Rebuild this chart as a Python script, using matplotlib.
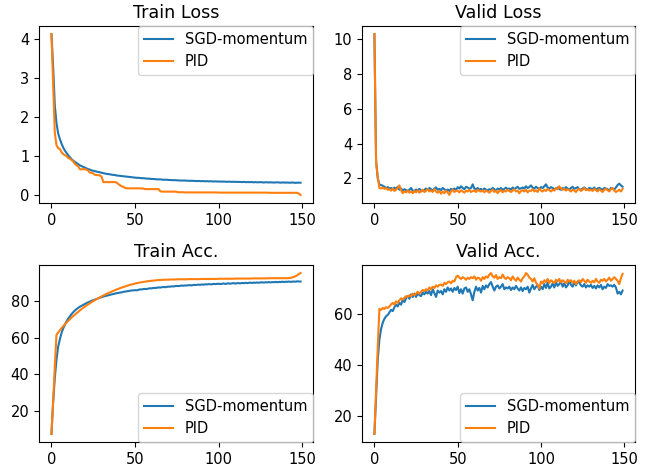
import matplotlib
matplotlib.use("Agg")
import matplotlib.pyplot as plt

epochs = list(range(150))

train_loss_sgd = [
    4.13, 3.30, 2.30, 1.85, 1.58, 1.44, 1.32, 1.22, 1.14, 1.08,
    1.02, 0.97, 0.92, 0.88, 0.85, 0.82, 0.79, 0.76, 0.74, 0.72,
    0.70, 0.68, 0.66, 0.65, 0.63, 0.62, 0.61, 0.60, 0.59, 0.58,
    0.57, 0.56, 0.55, 0.54, 0.535, 0.53, 0.52, 0.515, 0.51, 0.50,
    0.495, 0.49, 0.485, 0.48, 0.475, 0.47, 0.465, 0.46, 0.455, 0.45,
    0.445, 0.44, 0.44, 0.435, 0.43, 0.43, 0.425, 0.42, 0.42, 0.415,
    0.41, 0.41, 0.405, 0.40, 0.40, 0.40, 0.395, 0.39, 0.39, 0.39,
    0.385, 0.385, 0.38, 0.38, 0.38, 0.375, 0.375, 0.37, 0.37, 0.37,
    0.37, 0.365, 0.365, 0.36, 0.365, 0.36, 0.36, 0.355, 0.36, 0.355,
    0.355, 0.355, 0.35, 0.355, 0.35, 0.35, 0.35, 0.345, 0.35, 0.345,
    0.345, 0.345, 0.34, 0.345, 0.34, 0.34, 0.34, 0.34, 0.335, 0.34,
    0.335, 0.335, 0.335, 0.335, 0.33, 0.335, 0.33, 0.33, 0.33, 0.33,
    0.33, 0.325, 0.33, 0.325, 0.325, 0.33, 0.325, 0.32, 0.325, 0.325,
    0.32, 0.325, 0.32, 0.32, 0.32, 0.325, 0.32, 0.315, 0.32, 0.32,
    0.315, 0.32, 0.315, 0.315, 0.32, 0.315, 0.31, 0.315, 0.315, 0.315,
]
train_loss_pid = [
    4.13, 2.85, 1.60, 1.28, 1.20, 1.18, 1.10, 1.05, 1.02, 1.00,
    0.95, 0.93, 0.90, 0.86, 0.80, 0.76, 0.74, 0.66, 0.66, 0.66,
    0.66, 0.65, 0.62, 0.57, 0.57, 0.55, 0.52, 0.51, 0.51, 0.50,
    0.47, 0.33, 0.33, 0.33, 0.33, 0.33, 0.33, 0.33, 0.33, 0.32,
    0.28, 0.25, 0.22, 0.21, 0.18, 0.17, 0.17, 0.17, 0.17, 0.17,
    0.17, 0.17, 0.17, 0.17, 0.165, 0.165, 0.15, 0.15, 0.15, 0.15,
    0.15, 0.15, 0.15, 0.15, 0.15, 0.10, 0.085, 0.085, 0.085, 0.085,
    0.085, 0.085, 0.085, 0.085, 0.085, 0.08, 0.07, 0.07, 0.07, 0.07,
    0.065, 0.065, 0.065, 0.065, 0.065, 0.065, 0.065, 0.065, 0.065, 0.065,
    0.065, 0.065, 0.065, 0.065, 0.065, 0.065, 0.065, 0.065, 0.065, 0.065,
    0.06, 0.06, 0.06, 0.06, 0.06, 0.06, 0.06, 0.06, 0.06, 0.06,
    0.06, 0.06, 0.06, 0.06, 0.06, 0.06, 0.06, 0.06, 0.06, 0.06,
    0.06, 0.06, 0.06, 0.06, 0.06, 0.06, 0.06, 0.06, 0.06, 0.06,
    0.055, 0.055, 0.055, 0.055, 0.055, 0.055, 0.055, 0.055, 0.055, 0.055,
    0.055, 0.055, 0.055, 0.055, 0.055, 0.055, 0.055, 0.055, 0.035, 0.0,
]

valid_loss_sgd = [
    10.3, 3.05, 2.0, 1.65, 1.62, 1.58, 1.52, 1.45, 1.50, 1.42,
    1.45, 1.38, 1.47, 1.40, 1.52, 1.35, 1.42, 1.30, 1.38, 1.33,
    1.28, 1.35, 1.45, 1.30, 1.27, 1.36, 1.32, 1.40, 1.30, 1.28,
    1.35, 1.42, 1.33, 1.45, 1.38, 1.30, 1.42, 1.48, 1.35, 1.40,
    1.33, 1.45, 1.38, 1.30, 1.36, 1.28, 1.40, 1.35, 1.42, 1.32,
    1.50, 1.42, 1.55, 1.45, 1.38, 1.52, 1.48, 1.40, 1.45, 1.66,
    1.42, 1.38, 1.45, 1.35, 1.40, 1.33, 1.42, 1.36, 1.30, 1.38,
    1.35, 1.45, 1.38, 1.30, 1.42, 1.37, 1.45, 1.33, 1.40, 1.47,
    1.38, 1.42, 1.35, 1.48, 1.40, 1.45, 1.52, 1.40, 1.43, 1.48,
    1.42, 1.55, 1.45, 1.50, 1.60, 1.47, 1.42, 1.52, 1.45, 1.40,
    1.50, 1.45, 1.55, 1.66, 1.48, 1.42, 1.50, 1.45, 1.38, 1.42,
    1.48, 1.40, 1.35, 1.45, 1.38, 1.50, 1.42, 1.36, 1.45, 1.52,
    1.40, 1.45, 1.50, 1.38, 1.35, 1.42, 1.48, 1.40, 1.36, 1.45,
    1.42, 1.38, 1.48, 1.35, 1.42, 1.46, 1.40, 1.35, 1.45, 1.42,
    1.38, 1.30, 1.45, 1.40, 1.36, 1.48, 1.62, 1.70, 1.60, 1.52,
]
valid_loss_pid = [
    10.3, 2.9, 2.1, 1.45, 1.42, 1.48, 1.40, 1.45, 1.35, 1.38,
    1.30, 1.42, 1.28, 1.35, 1.45, 1.60, 1.32, 1.15, 1.25, 1.20,
    1.30, 1.18, 1.25, 1.15, 1.28, 1.20, 1.32, 1.18, 1.25, 1.35,
    1.22, 1.28, 1.40, 1.25, 1.30, 1.22, 1.38, 1.25, 1.18, 1.28,
    1.12, 1.25, 1.15, 1.30, 1.20, 1.05, 1.25, 1.35, 1.22, 1.30,
    1.28, 1.20, 1.32, 1.25, 1.18, 1.30, 1.25, 1.35, 1.22, 1.28,
    1.30, 1.22, 1.35, 1.28, 1.25, 1.32, 1.20, 1.30, 1.25, 1.18,
    1.28, 1.35, 1.22, 1.30, 1.15, 1.28, 1.32, 1.20, 1.30, 1.25,
    1.35, 1.28, 1.22, 1.30, 1.38, 1.25, 1.30, 1.15, 1.28, 1.32,
    1.25, 1.35, 1.20, 1.30, 1.28, 1.38, 1.25, 1.32, 1.22, 1.42,
    1.30, 1.25, 1.35, 1.28, 1.40, 1.32, 1.25, 1.35, 1.30, 1.45,
    1.38, 1.55, 1.42, 1.35, 1.40, 1.30, 1.38, 1.32, 1.25, 1.35,
    1.30, 1.22, 1.35, 1.40, 1.28, 1.35, 1.45, 1.32, 1.38, 1.30,
    1.35, 1.28, 1.40, 1.32, 1.25, 1.38, 1.30, 1.22, 1.35, 1.40,
    1.32, 1.25, 1.38, 1.45, 1.30, 1.22, 1.28, 1.35, 1.25, 1.40,
]

train_acc_sgd = [
    7.7, 25, 38, 48, 55, 59, 62.5, 65, 67, 68.8,
    70.3, 71.6, 72.8, 73.8, 74.7, 75.5, 76.2, 76.8, 77.3, 77.8,
    78.3, 78.8, 79.2, 79.6, 80.0, 80.4, 80.7, 81.0, 81.4, 81.7,
    82.0, 82.3, 82.6, 82.8, 83.0, 83.3, 83.5, 83.7, 83.9, 84.2,
    84.3, 84.5, 84.6, 84.9, 85.0, 85.2, 85.3, 85.5, 85.6, 85.7,
    85.8, 85.7, 86.0, 86.2, 86.2, 86.4, 86.5, 86.4, 86.7, 86.8,
    86.8, 87.0, 87.0, 87.1, 87.3, 87.2, 87.4, 87.5, 87.4, 87.6,
    87.7, 87.7, 87.9, 87.8, 88.0, 88.1, 88.0, 88.2, 88.3, 88.2,
    88.4, 88.3, 88.5, 88.5, 88.4, 88.7, 88.6, 88.7, 88.8, 88.7,
    88.9, 88.8, 89.0, 88.9, 89.1, 89.0, 89.0, 89.2, 89.1, 89.2,
    89.3, 89.1, 89.3, 89.4, 89.2, 89.4, 89.5, 89.3, 89.5, 89.6,
    89.4, 89.6, 89.6, 89.5, 89.7, 89.6, 89.8, 89.6, 89.8, 89.9,
    89.7, 89.9, 89.8, 90.0, 89.8, 90.0, 90.1, 89.9, 90.1, 90.0,
    90.2, 90.0, 90.2, 90.1, 90.3, 90.1, 90.3, 90.2, 90.4, 90.2,
    90.4, 90.3, 90.5, 90.3, 90.4, 90.5, 90.4, 90.6, 90.5, 90.5,
]
train_acc_pid = [
    7.7, 25, 44, 61.5, 62.8, 64.0, 65.1, 66.2, 67.2, 68.2,
    69.1, 70.0, 70.9, 71.7, 72.5, 73.3, 74.0, 74.8, 75.5, 76.2,
    76.9, 77.5, 78.1, 78.7, 79.3, 79.9, 80.4, 80.9, 81.4, 81.9,
    82.4, 82.9, 83.3, 83.8, 84.2, 84.6, 85.0, 85.4, 85.8, 86.2,
    86.5, 86.9, 87.2, 87.5, 87.8, 88.1, 88.4, 88.7, 88.9, 89.1,
    89.4, 89.6, 89.8, 90.0, 90.1, 90.3, 90.4, 90.6, 90.7, 90.8,
    90.9, 91.0, 91.1, 91.2, 91.3, 91.3, 91.4, 91.4, 91.5, 91.5,
    91.5, 91.6, 91.6, 91.6, 91.6, 91.7, 91.7, 91.7, 91.7, 91.7,
    91.7, 91.7, 91.8, 91.8, 91.8, 91.8, 91.8, 91.8, 91.8, 91.8,
    91.9, 91.9, 91.9, 91.9, 91.9, 91.9, 91.9, 91.9, 91.9, 91.9,
    92.0, 92.0, 92.0, 92.0, 92.0, 92.0, 92.0, 92.0, 92.0, 92.0,
    92.1, 92.1, 92.1, 92.1, 92.1, 92.1, 92.1, 92.1, 92.1, 92.1,
    92.2, 92.2, 92.2, 92.2, 92.2, 92.2, 92.2, 92.2, 92.2, 92.2,
    92.3, 92.3, 92.3, 92.3, 92.3, 92.3, 92.3, 92.3, 92.3, 92.3,
    92.3, 92.3, 92.4, 92.5, 92.7, 93.0, 93.4, 93.9, 94.5, 95.1,
]

valid_acc_sgd = [
    13.2, 28, 42, 50, 54, 56.5, 58, 59, 59.5, 60.5,
    61.5, 61, 62.5, 63.5, 62.8, 64.2, 63.5, 65.5, 64.5, 66,
    66.8, 65.8, 67.5, 66.5, 67.8, 66.5, 68, 67.2, 66.8, 68.2,
    67.5, 68.5, 67.8, 68.8, 67.2, 69.5, 68, 66.5, 69, 68.2,
    68.8, 67.5, 69.5, 68.5, 70.2, 69, 69.8, 68.5, 70, 69.2,
    70.5, 68, 69.5, 67.8, 69.8, 70.2, 68.5, 69.5, 67.5, 65.2,
    68.5, 70.5, 69, 70, 68.2, 70.8, 69.5, 71, 70.2, 71.5,
    72.3, 70.5, 69, 70.5, 71, 69.8, 70.5, 71.5, 69.5, 70.2,
    69.8, 70.5, 69.2, 70.2, 69.5, 70.8, 69.8, 69, 70.2, 68.8,
    70, 69.5, 70.5, 68.2, 69.8, 71.2, 69.5, 70.5, 71, 69.2,
    70.5, 69.5, 71.5, 70, 72, 69.8, 70.5, 71.8, 70.2, 72.2,
    70.8, 71.5, 72.5, 70.5, 71.8, 70.2, 71, 72.8, 71.2, 70.5,
    72.2, 71, 72.5, 72, 71, 70.5, 71.5, 70.2, 71, 70.5,
    71.2, 70, 70.8, 69.8, 71, 70.2, 71.2, 69.5, 70.5, 70,
    71.5, 70.8, 71, 70.5, 71.2, 70.2, 67.8, 68.5, 67.5, 69,
]
valid_acc_pid = [
    13.2, 30, 47, 61.9, 61.5, 62.2, 61.8, 62.5, 62.2, 62.8,
    63.6, 64.2, 63.5, 64.8, 64.2, 65.2, 66, 65.5, 66.2, 66.8,
    66.5, 67.2, 66.8, 67.8, 67.2, 67.8, 68.5, 67.8, 68.5, 69.2,
    68.8, 69.5, 69, 70.2, 69.5, 70.5, 70, 71, 70.5, 71.2,
    71.3, 70.8, 72, 71.5, 72.2, 72.5, 71.8, 72.8, 72.5, 74.2,
    74.8, 74, 73.5, 74.2, 73.8, 73.2, 74, 73.5, 74.2, 73.8,
    74.5, 73.2, 74, 73.8, 72.8, 74.2, 73.5, 74.5, 74, 75.2,
    75.8, 74.5, 74, 75, 73.5, 74.2, 73.8, 75.2, 74, 73.5,
    74.2, 73.8, 73, 74.5, 73.5, 72.8, 74, 73.2, 72.5, 73.8,
    74.5, 75.8, 75.2, 74, 73.5, 72.5, 73.8, 72, 71.2, 69.8,
    72.5, 71.8, 73, 72.2, 73.5, 72, 73, 72.5, 71.8, 73.2,
    72.5, 73.5, 72.2, 73, 72.5, 71.8, 73.2, 72.5, 73, 72,
    72.8, 71.5, 72.5, 73, 72.2, 73.5, 72.8, 72, 73.2, 72.5,
    72, 72.8, 72.2, 73.5, 72.5, 72, 73.2, 72.8, 73.5, 72.5,
    73.2, 74, 72.8, 73.5, 74.2, 73.5, 72.8, 71.5, 73.8, 75.5,
]

panels = [
    ("Train Loss", train_loss_sgd, train_loss_pid, "upper right"),
    ("Valid Loss", valid_loss_sgd, valid_loss_pid, "upper right"),
    ("Train Acc.", train_acc_sgd, train_acc_pid, "lower right"),
    ("Valid Acc.", valid_acc_sgd, valid_acc_pid, "lower right"),
]

W, H = 646, 467
# axes boxes in pixels: left, top, right, bottom
boxes = [
    (39, 26, 313, 203),
    (362, 26, 635, 203),
    (39, 265, 313, 442),
    (362, 265, 635, 442),
]

plt.rcParams["font.size"] = 10.5

fig = plt.figure(figsize=(W / 100, H / 100), dpi=100)
for (title, sgd, pid, loc), (x0, y0, x1, y1) in zip(panels, boxes):
    ax = fig.add_axes([x0 / W, 1 - y1 / H, (x1 - x0) / W, (y1 - y0) / H])
    ax.plot(epochs, sgd, label="SGD-momentum")
    ax.plot(epochs, pid, label="PID")
    ax.set_title(title, fontsize=12.6)
    ax.legend(loc=loc, borderaxespad=0)

fig.savefig("out.png", dpi=100)
